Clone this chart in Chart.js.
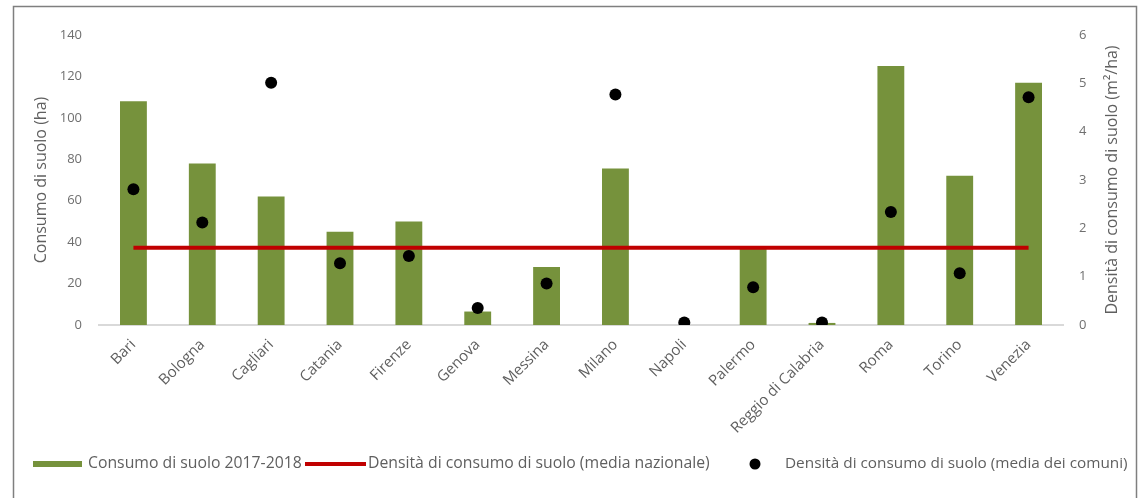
<!DOCTYPE html>
<html lang="it">
<head>
<meta charset="utf-8">
<title>Consumo di suolo 2017-2018</title>
<script src="https://cdn.jsdelivr.net/npm/chart.js@4/dist/chart.umd.min.js"></script>
<style>
  html, body { margin: 0; padding: 0; background: #ffffff; }
  #wrap { position: relative; width: 1139px; height: 498px; }
</style>
</head>
<body>
<div id="wrap"><canvas id="chart" width="1139" height="498"></canvas></div>
<script>
// Capoluoghi
const categories = ['Bari', 'Bologna', 'Cagliari', 'Catania', 'Firenze', 'Genova', 'Messina',
  'Milano', 'Napoli', 'Palermo', 'Reggio di Calabria', 'Roma', 'Torino', 'Venezia'];

// Consumo di suolo 2017-2018 (ha)
const consumoSuolo = [108, 78, 62, 45, 50, 6.5, 28, 75.5, 0, 38, 1, 125, 72, 117];

// Densità di consumo di suolo, media nazionale (m²/ha)
const densitaNazionale = [1.6, 1.6, 1.6, 1.6, 1.6, 1.6, 1.6, 1.6, 1.6, 1.6, 1.6, 1.6, 1.6, 1.6];

// Densità di consumo di suolo, media dei comuni (m²/ha)
const densitaComuni = [2.81, 2.12, 5.01, 1.28, 1.43, 0.35, 0.86, 4.77, 0.05, 0.78, 0.05, 2.34, 1.07, 4.71];

// Assi
const leftTicks = { min: 0, max: 140, step: 20 };
const rightTicks = { min: 0, max: 6, step: 1 };

const FONT = "'Open Sans', 'DejaVu Sans', sans-serif";
const GREY = '#5f5f5f';
const LIGHT_GREY = '#6f6f6f';

// Cornice esterna
const framePlugin = {
  id: 'frame',
  beforeDraw(chart) {
    const ctx = chart.ctx;
    ctx.save();
    ctx.fillStyle = '#ffffff';
    ctx.fillRect(0, 0, chart.width, chart.height);
    ctx.strokeStyle = '#7f7f7f';
    ctx.lineWidth = 1.5;
    ctx.strokeRect(13.5, 6.5, 1123, 495);
    ctx.restore();
  }
};

// Titolo dell'asse destro, letto dal basso verso l'alto
const rightTitlePlugin = {
  id: 'rightTitle',
  afterDraw(chart) {
    const ctx = chart.ctx;
    const area = chart.chartArea;
    ctx.save();
    ctx.translate(1112, (area.top + area.bottom) / 2);
    ctx.rotate(-Math.PI / 2);
    ctx.font = `16px ${FONT}`;
    ctx.fillStyle = GREY;
    ctx.textAlign = 'center';
    ctx.textBaseline = 'middle';
    ctx.fillText('Densità di consumo di suolo (m²/ha)', 0, 0);
    ctx.restore();
  }
};

// Legenda in basso
const legendPlugin = {
  id: 'bottomLegend',
  afterDraw(chart) {
    const ctx = chart.ctx;
    const ds = chart.data.datasets;
    const y = 464;
    ctx.save();
    ctx.textBaseline = 'middle';
    ctx.textAlign = 'left';

    const fitText = (text, x, width) => {
      let size = 14;
      ctx.font = `${size}px ${FONT}`;
      const w = ctx.measureText(text).width;
      size = Math.max(10, Math.min(16, size * width / w));
      ctx.font = `${size}px ${FONT}`;
      ctx.fillStyle = GREY;
      ctx.fillText(text, x, y);
    };

    // barre
    ctx.fillStyle = ds[0].backgroundColor;
    ctx.fillRect(33, y - 3, 49, 6);
    fitText(ds[0].label, 88, 214);

    // linea media nazionale
    ctx.strokeStyle = ds[1].borderColor;
    ctx.lineWidth = 4;
    ctx.beginPath();
    ctx.moveTo(305, y);
    ctx.lineTo(366, y);
    ctx.stroke();
    fitText(ds[1].label, 368, 342);

    // punti media dei comuni
    ctx.fillStyle = ds[2].backgroundColor;
    ctx.beginPath();
    ctx.arc(755, y, 5.5, 0, Math.PI * 2);
    ctx.fill();
    fitText(ds[2].label, 785, 343);
    ctx.restore();
  }
};

new Chart(document.getElementById('chart'), {
  data: {
    labels: categories,
    datasets: [
      {
        type: 'bar',
        label: 'Consumo di suolo 2017-2018',
        data: consumoSuolo,
        yAxisID: 'y',
        backgroundColor: '#76923c',
        borderWidth: 0,
        barPercentage: 0.39,
        categoryPercentage: 1,
        order: 3
      },
      {
        type: 'line',
        label: 'Densità di consumo di suolo (media nazionale)',
        data: densitaNazionale,
        yAxisID: 'y2',
        borderColor: '#c00000',
        backgroundColor: '#c00000',
        borderWidth: 4,
        pointRadius: 0,
        pointHoverRadius: 0,
        fill: false,
        tension: 0,
        order: 2
      },
      {
        type: 'line',
        label: 'Densità di consumo di suolo (media dei comuni)',
        data: densitaComuni,
        yAxisID: 'y2',
        showLine: false,
        borderColor: '#000000',
        backgroundColor: '#000000',
        pointRadius: 6,
        pointHoverRadius: 6,
        pointBorderWidth: 0,
        order: 1
      }
    ]
  },
  options: {
    responsive: false,
    animation: false,
    layout: { padding: { top: 35, right: 0, bottom: 0, left: 0 } },
    plugins: {
      legend: { display: false },
      tooltip: { enabled: false }
    },
    scales: {
      x: {
        offset: true,
        grid: { display: false, drawTicks: false },
        border: { display: true, color: '#d9d9d9', width: 2 },
        ticks: {
          color: GREY,
          font: { family: FONT, size: 15 },
          minRotation: 45,
          maxRotation: 45,
          padding: 11,
          autoSkip: false
        },
        afterFit(scale) { scale.height = 173; }
      },
      y: {
        position: 'left',
        min: leftTicks.min,
        max: leftTicks.max,
        grid: { display: false, drawTicks: false },
        border: { display: false },
        ticks: {
          stepSize: leftTicks.step,
          color: LIGHT_GREY,
          font: { family: FONT, size: 13 },
          padding: 17
        },
        title: {
          display: true,
          text: 'Consumo di suolo (ha)',
          color: GREY,
          font: { family: FONT, size: 16 },
          padding: { top: 32, bottom: 0 }
        },
        afterFit(scale) { scale.width = 99; }
      },
      y2: {
        position: 'right',
        min: rightTicks.min,
        max: rightTicks.max,
        grid: { display: false, drawTicks: false },
        border: { display: false },
        ticks: {
          stepSize: rightTicks.step,
          color: LIGHT_GREY,
          font: { family: FONT, size: 13 },
          padding: 16
        },
        afterFit(scale) { scale.width = 76; }
      }
    }
  },
  plugins: [framePlugin, rightTitlePlugin, legendPlugin]
});
</script>
</body>
</html>
